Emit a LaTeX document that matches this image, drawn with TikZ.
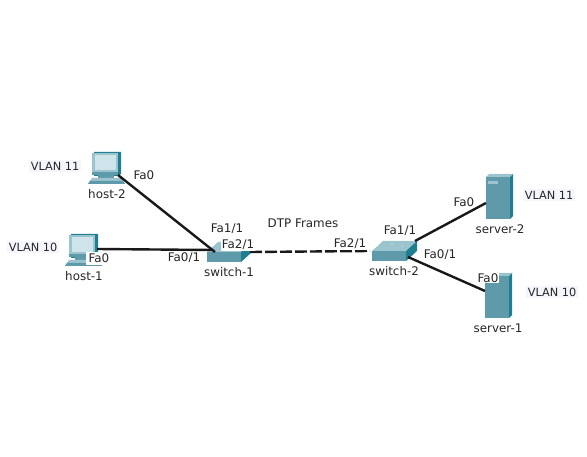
\documentclass[tikz,border=0pt]{standalone}
\usepackage{fontspec}
\setmainfont{DejaVu Sans}
\definecolor{tealm}{HTML}{5F9AAB}
\definecolor{teald}{HTML}{1F7F90}
\definecolor{tealt}{HTML}{9CC4CF}
\definecolor{screenc}{HTML}{CFE3EA}
\definecolor{vlanbg}{HTML}{F5F6FB}
\tikzset{
  lab/.style={font=\fontsize{11.9}{13}\selectfont,text=black!85,inner sep=1pt},
  port/.style={lab,fill=white},
  vlan/.style={lab,font=\fontsize{11.3}{13}\selectfont,fill=vlanbg,inner sep=2pt},
  link/.style={line width=2.4pt,black!90},
  trunk/.style={line width=2.4pt,black!90,dash pattern=on 12pt off 3pt},
  front/.style={fill=tealm,draw=none},
  side/.style={fill=teald,draw=none},
  topf/.style={fill=tealt,draw=none},
  pics/pc/.style={code={
    \fill[teald] (2,0) -- (29,0) -- (29,22) -- (26,24) -- (2,24) -- cycle;
    \fill[tealt] (0,1) rectangle (26,23);
    \fill[screenc] (2.5,3.5) rectangle (23.5,18.5);
    \fill[tealm] (0,20) rectangle (26,23);
    \fill[tealm] (6,23) rectangle (22,26);
    \fill[tealt] (0,26) -- (29,26) -- (33,32) -- (-4,32) -- cycle;
    \fill[tealm] (-4,32) -- (-2,29) -- (31,29) -- (33,32) -- cycle;
  }},
  pics/sw/.style={code={
    \path[topf] (0,10) -- (11,0) -- (45,0) -- (34,10) -- cycle;
    \path[front] (0,10) rectangle (34,20);
    \path[side] (34,10) -- (45,0) -- (45,10) -- (34,20) -- cycle;
  }},
  pics/srv/.style={code={
    \path[topf] (0,3) -- (3,0) -- (27,0) -- (24,3) -- cycle;
    \path[front] (0,3) rectangle (24,45);
    \path[side] (24,3) -- (27,0) -- (27,42) -- (24,45) -- cycle;
  }},
}
\begin{document}
\begin{tikzpicture}[x=1pt,y=-1pt]
\useasboundingbox (0,0) rectangle (587,457);
\pic at (92,152) {pc};
\pic at (69,234) {pc};
\pic at (207,242) {sw};
\pic at (372,241) {sw};
\pic at (486,174) {srv};
\pic at (485,273) {srv};
\fill[tealt] (488,181) rectangle (498,184);
\fill[white!80!tealt] (378,246) circle (0.7) (392,244) circle (0.7) (402,246) circle (0.7);
\coordinate (host2) at (118,175);
\coordinate (host1) at (97,249);
\coordinate (sw1a) at (215,252);
\coordinate (sw1b) at (213,250);
\coordinate (sw1c) at (250,252);
\coordinate (sw2a) at (370,251);
\coordinate (sw2b) at (415,241);
\coordinate (sw2c) at (408,257);
\coordinate (srv2) at (486,203);
\coordinate (srv1) at (485,291);
\draw[link] (host2) -- (sw1a);
\draw[link] (host1) -- (sw1b);
\draw[trunk] (sw1c) -- (sw2a);
\draw[link] (sw2b) -- (srv2);
\draw[link] (sw2c) -- (srv1);
\node[vlan] (v11a) at (55,166) {VLAN 11};
\node[vlan] (v10a) at (33,247) {VLAN 10};
\node[vlan] (v11b) at (549,195) {VLAN 11};
\node[vlan] (v10b) at (552,292) {VLAN 10};
\node[port,minimum width=26pt,minimum height=13pt] (p2) at (99,258.5) {Fa0};
\node[port] (p1) at (144,175) {Fa0};
\node[lab] (n1) at (107,194) {host-2};
\node[lab] (n2) at (84,276) {host-1};
\node[lab] (p3) at (227,229) {Fa1/1};
\node[port] (p4) at (238,245) {Fa2/1};
\node[port] (p5) at (184,258) {Fa0/1};
\node[lab] (n3) at (229,272) {switch-1};
\node[lab] (t) at (303,223) {DTP Frames};
\node[port] (p6) at (350,244) {Fa2/1};
\node[lab] (p7) at (400,231) {Fa1/1};
\node[lab] (n4) at (394,271) {switch-2};
\node[port] (p8) at (440,255) {Fa0/1};
\node[port] (p9) at (464,202) {Fa0};
\node[lab] (n5) at (500,229) {server-2};
\node[port] (p10) at (488,278) {Fa0};
\node[lab] (n6) at (498,328) {server-1};
\end{tikzpicture}
\end{document}
